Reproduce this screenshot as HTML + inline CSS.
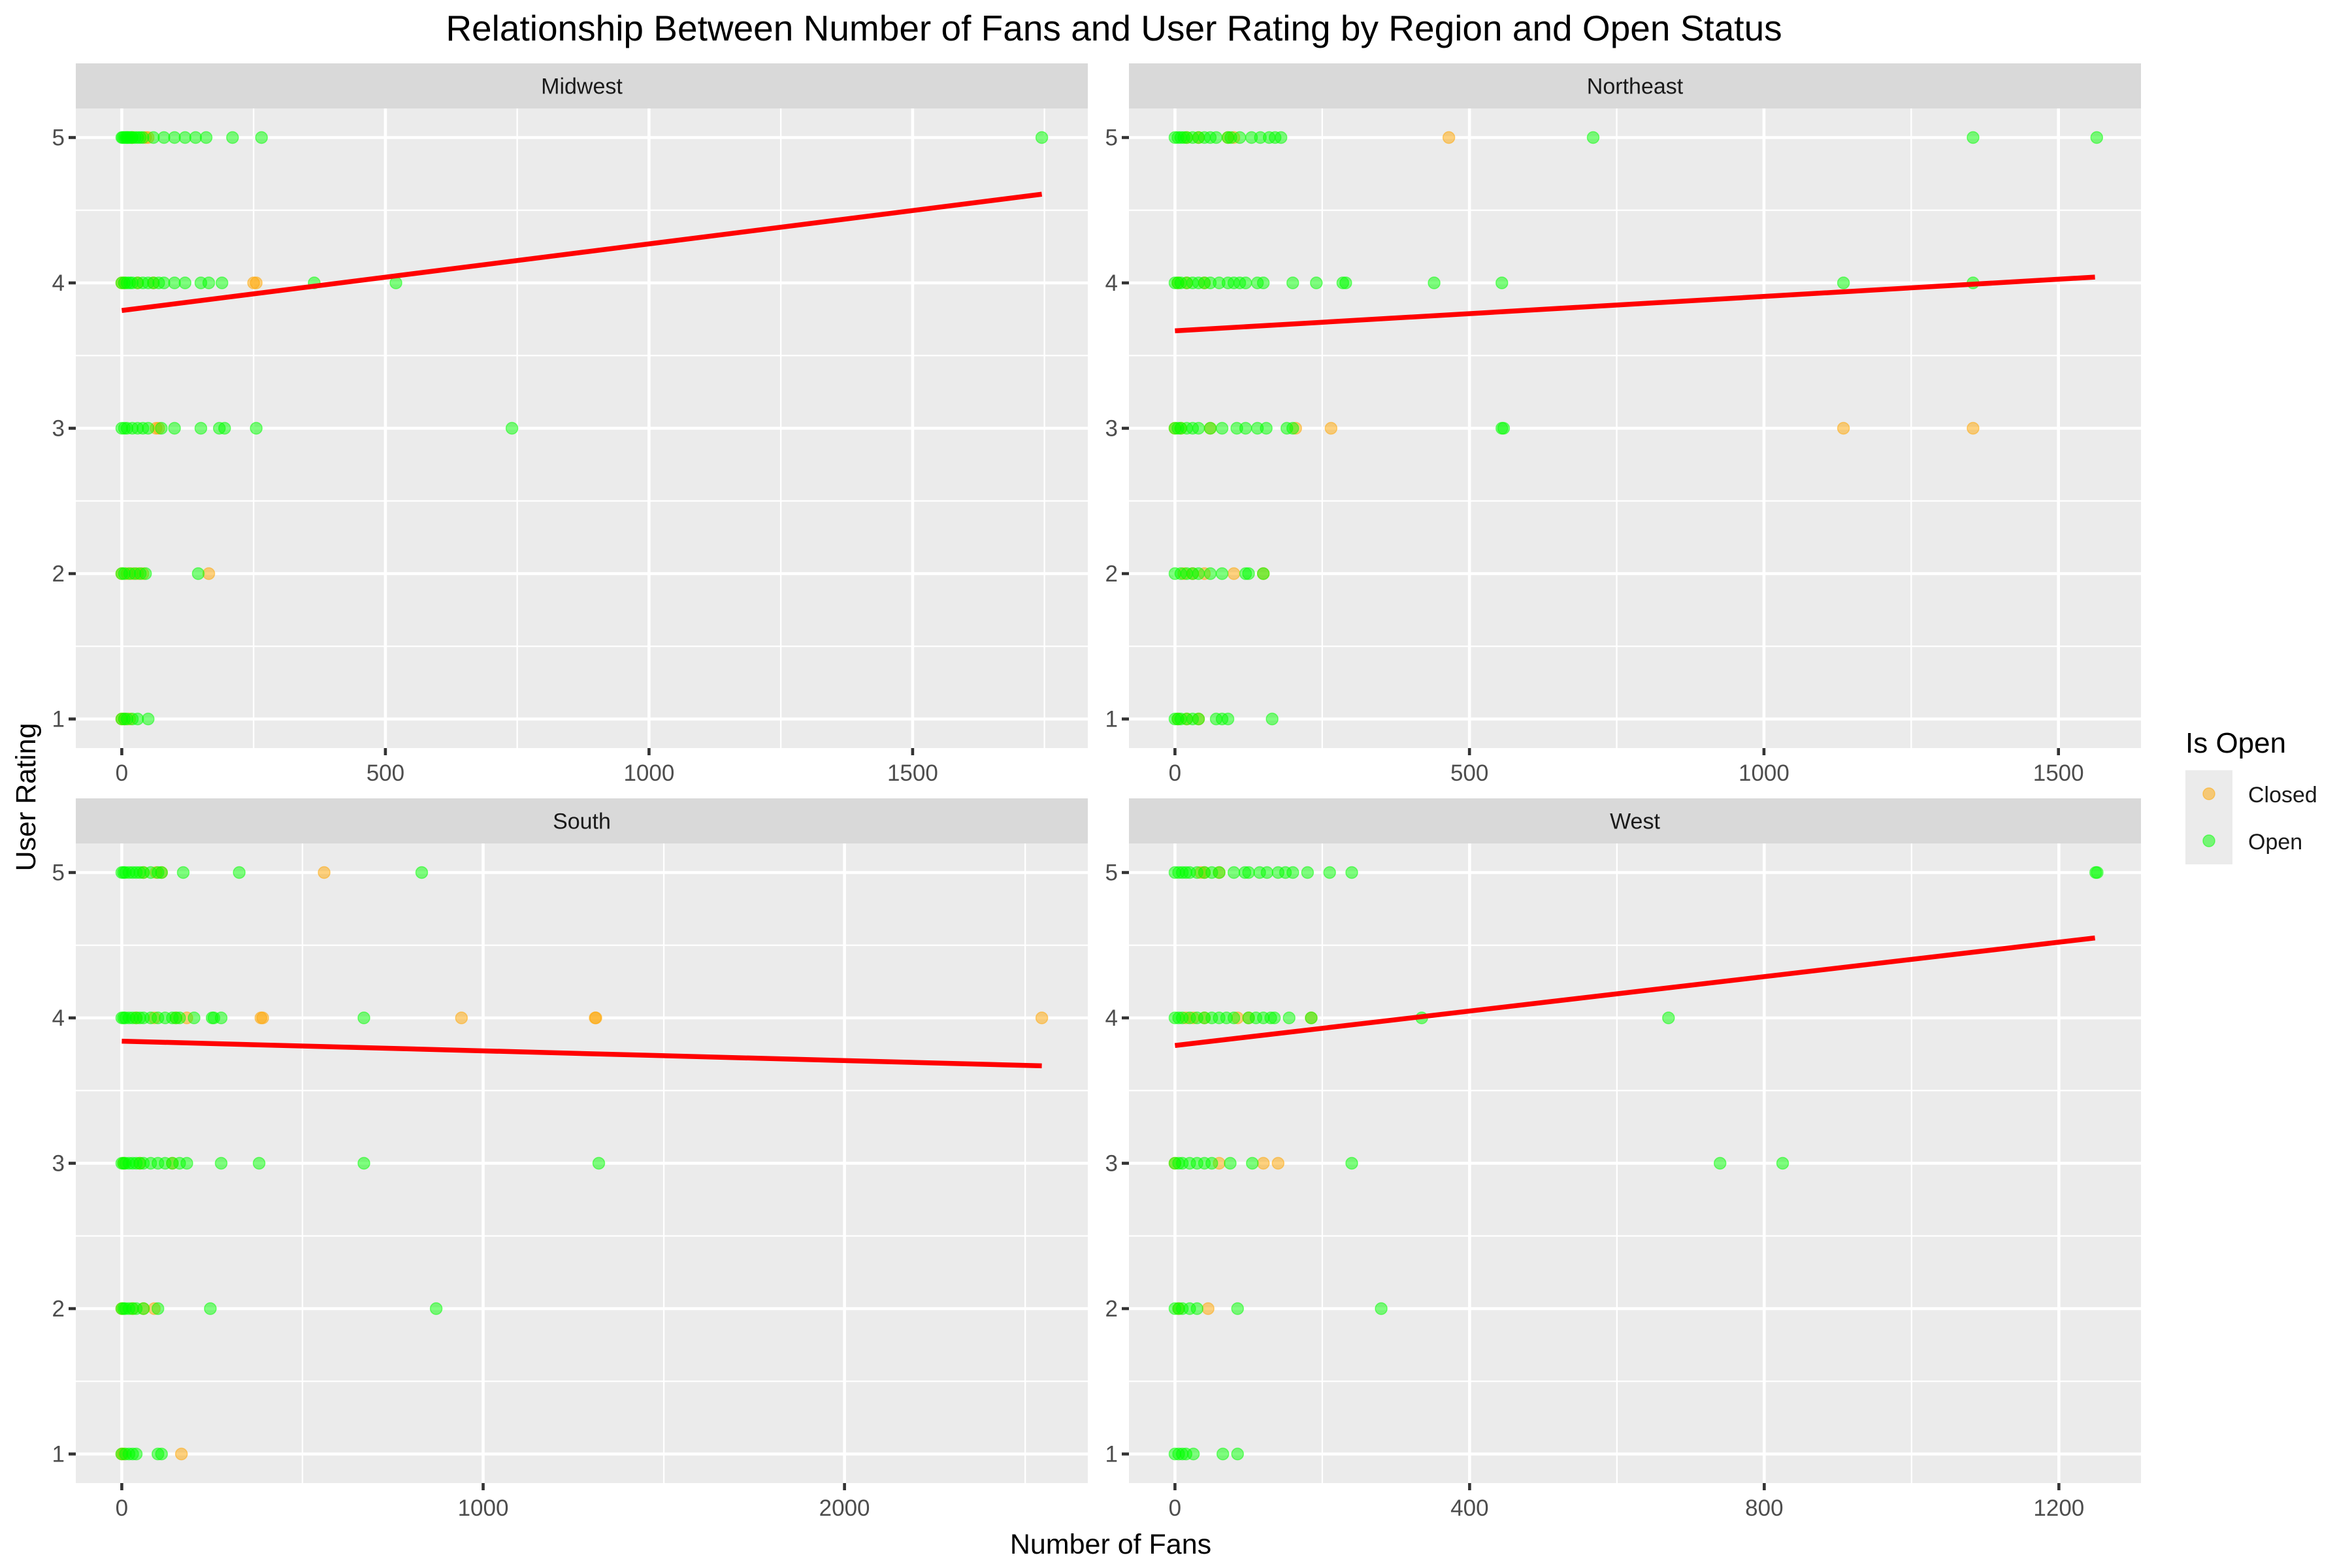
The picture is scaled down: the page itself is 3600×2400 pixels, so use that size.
<!DOCTYPE html>
<html><head><meta charset="utf-8"><style>
html,body{margin:0;padding:0;background:#fff}
svg{display:block;font-family:"Liberation Sans",Arial,sans-serif}
</style></head><body>
<svg id="chart" width="3600" height="2400" viewBox="0 0 3600 2400">
<text x="1705" y="62" font-size="55" text-anchor="middle" fill="#000">Relationship Between Number of Fans and User Rating by Region and Open Status</text>
<text transform="translate(54,1220) rotate(-90)" font-size="43" text-anchor="middle" fill="#000">User Rating</text>
<text x="1700" y="2378" font-size="43" text-anchor="middle" fill="#000">Number of Fans</text>
<g>
<text x="3345" y="1152" font-size="44" fill="#000">Is Open</text>
<rect x="3345" y="1179" width="72" height="144" fill="#ebebeb"/>
<circle cx="3381" cy="1215" r="9" fill="#FFA500" fill-opacity="0.5" stroke="#FFA500" stroke-opacity="0.5" stroke-width="1.5"/>
<circle cx="3381" cy="1287" r="9" fill="#00FF00" fill-opacity="0.5" stroke="#00FF00" stroke-opacity="0.5" stroke-width="1.5"/>
<text x="3441" y="1228" font-size="34" fill="#1a1a1a">Closed</text>
<text x="3441" y="1300" font-size="34" fill="#1a1a1a">Open</text>
</g>
<g id="panels"></g>
</svg>
<script>
const regions = ["Midwest","Northeast","South","West"];
const xMax = [1745, 1562, 2546, 1249];
const xTicks = [[0,500,1000,1500],[0,500,1000,1500],[0,1000,2000],[0,400,800,1200]];
const yTicks = [1,2,3,4,5];
const fitStart = [3.81, 3.67, 3.84, 3.81];
const fitEnd = [4.61, 4.04, 3.67, 4.55];
// [fans, rating] per region, by status
const midwestOpen = [[0,5],[2,5],[5,5],[8,5],[10,5],[12,5],[15,5],[18,5],[20,5],[25,5],[30,5],[35,5],[40,5],[60,5],[80,5],[100,5],[120,5],[140,5],[160,5],[210,5],[265,5],[1745,5],
[0,4],[5,4],[10,4],[15,4],[20,4],[30,4],[40,4],[50,4],[60,4],[70,4],[80,4],[100,4],[120,4],[150,4],[165,4],[190,4],[365,4],[520,4],
[0,3],[5,3],[10,3],[20,3],[30,3],[40,3],[50,3],[75,3],[100,3],[150,3],[185,3],[195,3],[255,3],[740,3],
[0,2],[5,2],[15,2],[25,2],[35,2],[45,2],[145,2],
[0,1],[5,1],[10,1],[20,1],[30,1],[50,1]];
const midwestClosed = [[20,5],[45,5],[50,5],[0,4],[5,4],[30,4],[60,4],[250,4],[255,4],[65,3],[70,3],[0,2],[10,2],[20,2],[30,2],[40,2],[165,2],[0,1],[5,1],[15,1]];
const northeastOpen = [[0,5],[5,5],[10,5],[15,5],[20,5],[30,5],[40,5],[50,5],[60,5],[70,5],[90,5],[95,5],[110,5],[130,5],[145,5],[160,5],[170,5],[180,5],[710,5],[1355,5],[1565,5],
[0,4],[5,4],[10,4],[20,4],[30,4],[40,4],[50,4],[60,4],[75,4],[90,4],[100,4],[110,4],[120,4],[140,4],[150,4],[200,4],[240,4],[285,4],[290,4],[440,4],[555,4],[1135,4],[1355,4],
[0,3],[5,3],[10,3],[20,3],[30,3],[40,3],[60,3],[80,3],[105,3],[120,3],[140,3],[155,3],[190,3],[200,3],[555,3],[558,3],
[0,2],[10,2],[20,2],[30,2],[40,2],[60,2],[80,2],[120,2],[125,2],[150,2],
[0,1],[5,1],[10,1],[20,1],[30,1],[40,1],[70,1],[80,1],[90,1],[165,1]];
const northeastClosed = [[20,5],[40,5],[90,5],[100,5],[465,5],[5,4],[20,4],[50,4],[0,3],[10,3],[60,3],[205,3],[265,3],[1135,3],[1355,3],[15,2],[30,2],[50,2],[100,2],[150,2],[5,1],[20,1],[40,1]];
const southOpen = [[0,5],[5,5],[10,5],[20,5],[30,5],[40,5],[50,5],[60,5],[80,5],[100,5],[110,5],[170,5],[325,5],[830,5],
[0,4],[5,4],[10,4],[20,4],[30,4],[40,4],[50,4],[60,4],[80,4],[100,4],[120,4],[140,4],[150,4],[160,4],[200,4],[250,4],[255,4],[275,4],[670,4],
[0,3],[5,3],[10,3],[20,3],[30,3],[40,3],[50,3],[60,3],[80,3],[100,3],[120,3],[140,3],[160,3],[180,3],[275,3],[380,3],[670,3],[1320,3],
[0,2],[5,2],[10,2],[20,2],[30,2],[40,2],[60,2],[100,2],[245,2],[870,2],
[0,1],[10,1],[20,1],[30,1],[40,1],[100,1],[110,1]];
const southClosed = [[60,5],[95,5],[110,5],[560,5],[40,4],[90,4],[150,4],[180,4],[385,4],[390,4],[940,4],[1310,4],[1312,4],[2546,4],[5,3],[50,3],[140,3],[0,2],[30,2],[60,2],[90,2],[0,1],[5,1],[165,1]];
const westOpen = [[0,5],[5,5],[10,5],[15,5],[20,5],[30,5],[40,5],[50,5],[60,5],[80,5],[95,5],[100,5],[115,5],[125,5],[140,5],[150,5],[160,5],[180,5],[210,5],[240,5],[1250,5],[1252,5],
[0,4],[5,4],[10,4],[20,4],[30,4],[40,4],[50,4],[60,4],[70,4],[80,4],[100,4],[110,4],[120,4],[130,4],[135,4],[155,4],[185,4],[335,4],[670,4],
[0,3],[5,3],[10,3],[20,3],[30,3],[40,3],[50,3],[75,3],[105,3],[240,3],[740,3],[825,3],
[0,2],[5,2],[10,2],[20,2],[30,2],[85,2],[280,2],
[0,1],[5,1],[10,1],[15,1],[25,1],[65,1],[85,1]];
const westClosed = [[35,5],[40,5],[60,5],[15,4],[25,4],[40,4],[85,4],[100,4],[185,4],[0,3],[60,3],[120,3],[140,3],[5,2],[45,2]];
const openSets = [midwestOpen, northeastOpen, southOpen, westOpen];
const closedSets = [midwestClosed, northeastClosed, southClosed, westClosed];

const NS = "http://www.w3.org/2000/svg";
const colL = [116, 1728], colW = 1549;
const rowStripTop = [97, 1222], rowStripH = 69, rowPanelH = 979;
function mk(tag, attrs, parent){ const e=document.createElementNS(NS,tag); for(const k in attrs) e.setAttribute(k,attrs[k]); parent.appendChild(e); return e; }
const root = document.getElementById("panels");
regions.forEach((reg,i)=>{
  const L = colL[i%2], T = rowStripTop[Math.floor(i/2)] + rowStripH, W = colW, H = rowPanelH;
  const mx = xMax[i];
  const xs = v => L + W*((v + 0.05*mx)/(1.1*mx));
  const ys = v => T + H*((5.2 - v)/4.4);
  const g = mk("g",{},root);
  
  
  const strip = mk("rect",{x:L,y:T-rowStripH,width:W,height:rowStripH,fill:"#d9d9d9"},g);
  
  
  const st = mk("text",{x:L+W/2,y:T-rowStripH/2+12,"font-size":34,"text-anchor":"middle",fill:"#1a1a1a"},g);
  st.textContent = reg;
  
  
  const bg = mk("rect",{x:L,y:T,width:W,height:H,fill:"#ebebeb"},g);
  
  
  const tk = xTicks[i], step = tk[1]-tk[0];
  for(let v=tk[0]-step/2; v<=mx*1.05+step; v+=step){ const x=xs(v); if(x>L&&x<L+W){ const ln=mk("line",{x1:x,x2:x,y1:T,y2:T+H,stroke:"#fff","stroke-width":2.3},g);   } }
  for(let v=1.5; v<5; v+=1){ const ln=mk("line",{x1:L,x2:L+W,y1:ys(v),y2:ys(v),stroke:"#fff","stroke-width":2.3},g);   }
  tk.forEach(v=>{ const x=xs(v);
    const ln=mk("line",{x1:x,x2:x,y1:T,y2:T+H,stroke:"#fff","stroke-width":4.6},g);
     
    const tm=mk("line",{x1:x,x2:x,y1:T+H,y2:T+H+11,stroke:"#333","stroke-width":4.6},g);
     
    const tl=mk("text",{x:x,y:T+H+50,"font-size":35,"text-anchor":"middle",fill:"#4d4d4d"},g);
    tl.textContent=v;  
  });
  yTicks.forEach(v=>{ const y=ys(v);
    const ln=mk("line",{x1:L,x2:L+W,y1:y,y2:y,stroke:"#fff","stroke-width":4.6},g);
     
    const tm=mk("line",{x1:L-11,x2:L,y1:y,y2:y,stroke:"#333","stroke-width":4.6},g);
     
    const tl=mk("text",{x:L-17,y:y+12,"font-size":35,"text-anchor":"end",fill:"#4d4d4d"},g);
    tl.textContent=v;  
  });
  const all = [];
  closedSets[i].forEach(p=>all.push([p[0],p[1],"#FFA500","closed"]));
  openSets[i].forEach(p=>all.push([p[0],p[1],"#00FF00","open"]));
  all.sort((a,b)=>(a[0]*7+a[1])%5-(b[0]*7+b[1])%5);
  all.forEach(p=>{ const c=mk("circle",{cx:xs(p[0]),cy:ys(p[1]),r:9,fill:p[2],"fill-opacity":0.5,stroke:p[2],"stroke-opacity":0.5,"stroke-width":1.5},g);
      });
  const fl = mk("line",{x1:xs(0),y1:ys(fitStart[i]),x2:xs(mx),y2:ys(fitEnd[i]),stroke:"#FF0000","stroke-width":7.5},g);
  
  
});
</script>
</body></html>
